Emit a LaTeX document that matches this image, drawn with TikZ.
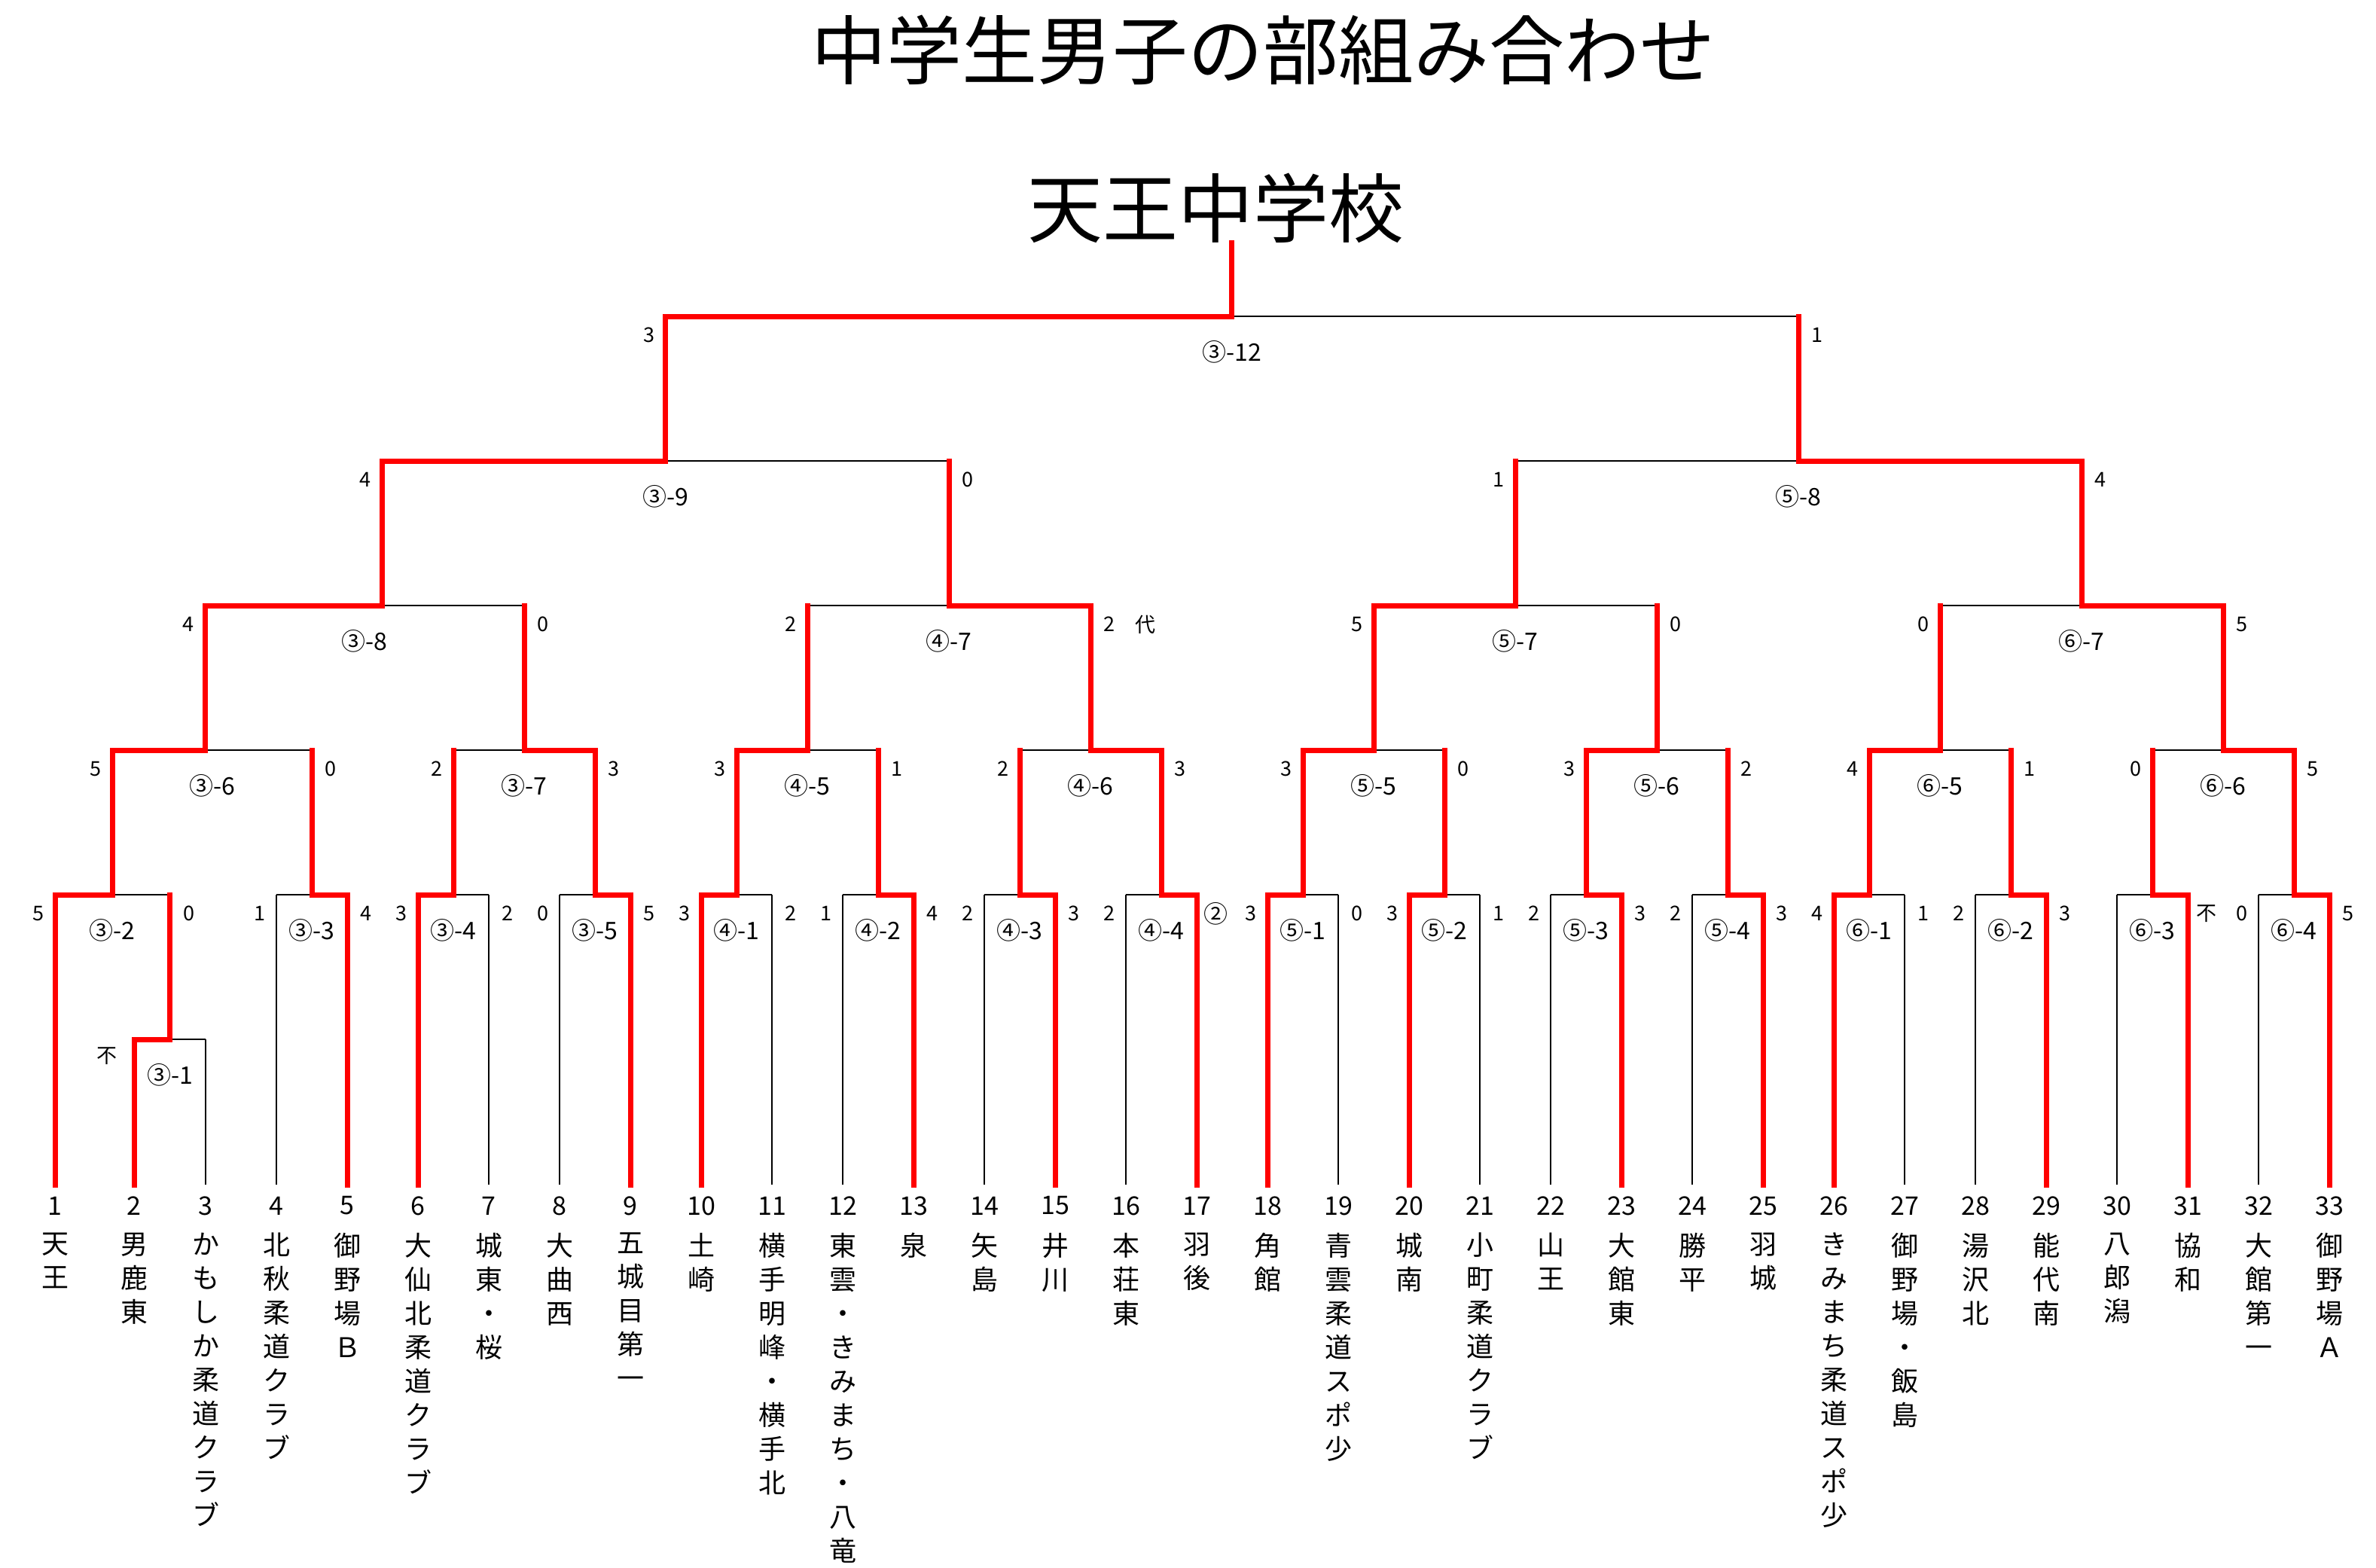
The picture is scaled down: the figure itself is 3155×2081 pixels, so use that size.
\documentclass[tikz,border=0pt]{standalone}
\usepackage{fontspec}
\setmainfont{Noto Sans CJK JP}
\usetikzlibrary{calc}
\makeatletter
\newcommand\vname[1]{\vbox{\baselineskip=45pt\lineskiplimit=-1000pt\lineskip=0pt\@tfor\vch:=#1\do{\hbox to 36pt{\hss\vch\hss}}}}
\makeatother
\newcommand\bout[4]{%
  \draw[blk] (#1 |- #3) -- (#2 |- #3);
  \draw[#4] (#2) -- (#2 |- #3);
  \draw[win] (#1) -- (#1 |- #3) -- (#3);
}
\newcommand\blab[6]{%
  \node[score] (#3l) at ($(#1 |- #3)+(-22,25)$) {#4};
  \node[score] (#3r) at ($(#2 |- #3)+(25,25)$) {#5};
  \node[mlab] (#3c) at ($(#1 |- #3)!0.5!(#2 |- #3)+(0,47)$) {#6};
}
\begin{document}
\begin{tikzpicture}[x=1pt,y=-1pt,
  blk/.style={draw=black,line width=2pt},
  win/.style={draw=red,line width=7pt,line cap=rect,line join=miter},
  rl/.style={draw=red,line width=7pt,line cap=rect},
  score/.style={font=\fontsize{27}{27}\selectfont,inner sep=0pt},
  mlab/.style={font=\fontsize{32}{32}\selectfont,inner sep=0pt},
  tnum/.style={font=\fontsize{34}{34}\selectfont,inner sep=0pt},
  tname/.style={font=\fontsize{36}{45}\selectfont,inner sep=0pt,anchor=north},
  big/.style={font=\fontsize{100}{100}\selectfont,inner sep=0pt}]
\fill[white] (0,0) rectangle (3155,2081);
\useasboundingbox (0,0) rectangle (3155,2081);

\node[big] (title) at (1677,66) {中学生男子の部組み合わせ};
\node[big] (champ) at (1614,276) {天王中学校};

% team coordinates
\coordinate (t1) at (73,1573);
\coordinate (t2) at (178,1573);
\coordinate (t3) at (273,1573);
\coordinate (t4) at (367,1573);
\coordinate (t5) at (461,1573);
\coordinate (t6) at (555,1573);
\coordinate (t7) at (649,1573);
\coordinate (t8) at (743,1573);
\coordinate (t9) at (837,1573);
\coordinate (t10) at (931,1573);
\coordinate (t11) at (1025,1573);
\coordinate (t12) at (1119,1573);
\coordinate (t13) at (1213,1573);
\coordinate (t14) at (1307,1573);
\coordinate (t15) at (1401,1573);
\coordinate (t16) at (1495,1573);
\coordinate (t17) at (1589,1573);
\coordinate (t18) at (1683,1573);
\coordinate (t19) at (1777,1573);
\coordinate (t20) at (1871,1573);
\coordinate (t21) at (1965,1573);
\coordinate (t22) at (2059,1573);
\coordinate (t23) at (2153,1573);
\coordinate (t24) at (2247,1573);
\coordinate (t25) at (2341,1573);
\coordinate (t26) at (2435,1573);
\coordinate (t27) at (2529,1573);
\coordinate (t28) at (2623,1573);
\coordinate (t29) at (2717,1573);
\coordinate (t30) at (2811,1573);
\coordinate (t31) at (2905,1573);
\coordinate (t32) at (2999,1573);
\coordinate (t33) at (3093,1573);

% match coordinates
\coordinate (m301) at (225.5,1380);
\coordinate (m302) at (149.25,1188);
\coordinate (m303) at (414,1188);
\coordinate (m304) at (602,1188);
\coordinate (m305) at (790,1188);
\coordinate (m401) at (978,1188);
\coordinate (m402) at (1166,1188);
\coordinate (m403) at (1354,1188);
\coordinate (m404) at (1542,1188);
\coordinate (m501) at (1730,1188);
\coordinate (m502) at (1918,1188);
\coordinate (m503) at (2106,1188);
\coordinate (m504) at (2294,1188);
\coordinate (m601) at (2482,1188);
\coordinate (m602) at (2670,1188);
\coordinate (m603) at (2858,1188);
\coordinate (m604) at (3046,1188);
\coordinate (m306) at (272,996);
\coordinate (m307) at (696,996);
\coordinate (m405) at (1072,996);
\coordinate (m406) at (1448,996);
\coordinate (m505) at (1824,996);
\coordinate (m506) at (2200,996);
\coordinate (m605) at (2576,996);
\coordinate (m606) at (2952,996);
\coordinate (m308) at (507,804);
\coordinate (m407) at (1260,804);
\coordinate (m507) at (2012,804);
\coordinate (m607) at (2764,804);
\coordinate (m309) at (883.5,612);
\coordinate (m508) at (2388,612);
\coordinate (m312) at (1635.75,420);

% bouts: winner, loser, match, loser style
\bout{t2}{t3}{m301}{blk}
\bout{t1}{m301}{m302}{rl}
\bout{t5}{t4}{m303}{blk}
\bout{t6}{t7}{m304}{blk}
\bout{t9}{t8}{m305}{blk}
\bout{t10}{t11}{m401}{blk}
\bout{t13}{t12}{m402}{blk}
\bout{t15}{t14}{m403}{blk}
\bout{t17}{t16}{m404}{blk}
\bout{t18}{t19}{m501}{blk}
\bout{t20}{t21}{m502}{blk}
\bout{t23}{t22}{m503}{blk}
\bout{t25}{t24}{m504}{blk}
\bout{t26}{t27}{m601}{blk}
\bout{t29}{t28}{m602}{blk}
\bout{t31}{t30}{m603}{blk}
\bout{t33}{t32}{m604}{blk}
\bout{m302}{m303}{m306}{rl}
\bout{m305}{m304}{m307}{rl}
\bout{m401}{m402}{m405}{rl}
\bout{m404}{m403}{m406}{rl}
\bout{m501}{m502}{m505}{rl}
\bout{m503}{m504}{m506}{rl}
\bout{m601}{m602}{m605}{rl}
\bout{m604}{m603}{m606}{rl}
\bout{m306}{m307}{m308}{rl}
\bout{m406}{m405}{m407}{rl}
\bout{m505}{m506}{m507}{rl}
\bout{m606}{m605}{m607}{rl}
\bout{m308}{m407}{m309}{rl}
\bout{m607}{m507}{m508}{rl}
\bout{m309}{m508}{m312}{rl}
\draw[win] (m312) -- (m312 |- champ.south);

% labels: left child, right child, match, left score, right score, name
\blab{t2}{t3}{m301}{}{}{③-1}
\node[score] (m301x) at ($(t2 |- m301)+(-36,22)$) {不};
\blab{t1}{m301}{m302}{5}{0}{③-2}
\blab{t4}{t5}{m303}{1}{4}{③-3}
\blab{t6}{t7}{m304}{3}{2}{③-4}
\blab{t8}{t9}{m305}{0}{5}{③-5}
\blab{t10}{t11}{m401}{3}{2}{④-1}
\blab{t12}{t13}{m402}{1}{4}{④-2}
\blab{t14}{t15}{m403}{2}{3}{④-3}
\blab{t16}{t17}{m404}{2}{\fontsize{32}{32}\selectfont ②}{④-4}
\blab{t18}{t19}{m501}{3}{0}{⑤-1}
\blab{t20}{t21}{m502}{3}{1}{⑤-2}
\blab{t22}{t23}{m503}{2}{3}{⑤-3}
\blab{t24}{t25}{m504}{2}{3}{⑤-4}
\blab{t26}{t27}{m601}{4}{1}{⑥-1}
\blab{t28}{t29}{m602}{2}{3}{⑥-2}
\blab{t30}{t31}{m603}{}{不}{⑥-3}
\blab{t32}{t33}{m604}{0}{5}{⑥-4}
\blab{m302}{m303}{m306}{5}{0}{③-6}
\blab{m304}{m305}{m307}{2}{3}{③-7}
\blab{m401}{m402}{m405}{3}{1}{④-5}
\blab{m403}{m404}{m406}{2}{3}{④-6}
\blab{m501}{m502}{m505}{3}{0}{⑤-5}
\blab{m503}{m504}{m506}{3}{2}{⑤-6}
\blab{m601}{m602}{m605}{4}{1}{⑥-5}
\blab{m603}{m604}{m606}{0}{5}{⑥-6}
\blab{m306}{m307}{m308}{4}{0}{③-8}
\blab{m405}{m406}{m407}{2}{2}{④-7}
\node[score] (m407d) at ($(m406 |- m407)+(73,25)$) {代};
\blab{m505}{m506}{m507}{5}{0}{⑤-7}
\blab{m605}{m606}{m607}{0}{5}{⑥-7}
\blab{m308}{m407}{m309}{4}{0}{③-9}
\blab{m507}{m607}{m508}{1}{4}{⑤-8}
\blab{m309}{m508}{m312}{3}{1}{③-12}

% team numbers and names
\foreach \i/\nm in {1/天王,2/男鹿東,3/かもしか柔道クラブ,4/北秋柔道クラブ,5/御野場Ｂ,6/大仙北柔道クラブ,7/城東・桜,8/大曲西,9/五城目第一,10/土崎,11/横手明峰・横手北,12/東雲・きみまち・八竜,13/泉,14/矢島,15/井川,16/本荘東,17/羽後,18/角館,19/青雲柔道スポ少,20/城南,21/小町柔道クラブ,22/山王,23/大館東,24/勝平,25/羽城,26/きみまち柔道スポ少,27/御野場・飯島,28/湯沢北,29/能代南,30/八郎潟,31/協和,32/大館第一,33/御野場Ａ}{
  \node[tnum] (k\i) at ($(t\i)+(0,28)$) {\i};
  \node[tname] (n\i) at ($(t\i)+(0,64)$) {\expandafter\vname\expandafter{\nm}};
}
\end{tikzpicture}
\end{document}
